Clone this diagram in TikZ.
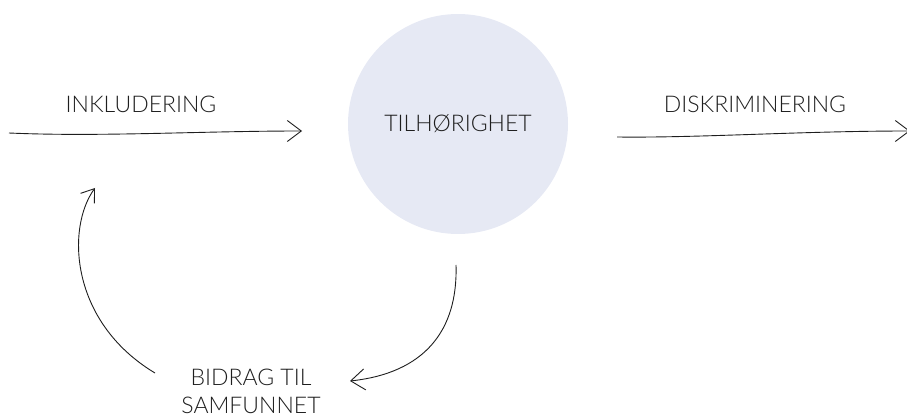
\documentclass[tikz,border=0pt]{standalone}
\usepackage{fontspec}
\setmainfont{Lato}[UprightFont={* Light}]
\usetikzlibrary{arrows.meta}
\definecolor{bubble}{RGB}{230,233,244}
\definecolor{ink}{RGB}{30,30,30}
\tikzset{
  label text/.style={font=\fontsize{23}{28}\selectfont, text=ink, inner sep=0pt, align=center},
  flow/.style={line width=0.9pt, draw=ink, -{Straight Barb[length=14pt,width=21pt]}},
  loop/.style={line width=0.9pt, draw=ink, -{Straight Barb[length=12pt,width=17pt]}}
}
\begin{document}
\begin{tikzpicture}[x=1pt,y=-1pt]
  \useasboundingbox (0,0) rectangle (907,419);
  % central circle
  \node[circle, fill=bubble, minimum size=220pt, inner sep=0pt, label text] (core) at (458,124) {TILH\O RIGHET};
  % labels
  \node[label text] (incl) at (141,104) {INKLUDERING};
  \node[label text] (disk) at (755,104) {DISKRIMINERING};
  \node[label text] (bidrag) at (251,391) {BIDRAG TIL\\SAMFUNNET};
  % free ends of the connectors
  \coordinate (inA) at (9,133);
  \coordinate (inB) at (302,131);
  \coordinate (outA) at (617,137);
  \coordinate (outB) at (910,131);
  \coordinate (downA) at (456,265);
  \coordinate (downB) at (350,381);
  \coordinate (upA) at (155,373);
  \coordinate (upB) at (95,188);
  % connectors
  \draw[flow] (inA) .. controls (100,137) and (200,131) .. (inB);
  \draw[flow] (outA) .. controls (700,138) and (800,131) .. (outB);
  \draw[flow] (downA) .. controls (458,330) and (425,373) .. (downB);
  \draw[loop] (upA) .. controls (70,322) and (66,228) .. (upB);
\end{tikzpicture}
\end{document}
